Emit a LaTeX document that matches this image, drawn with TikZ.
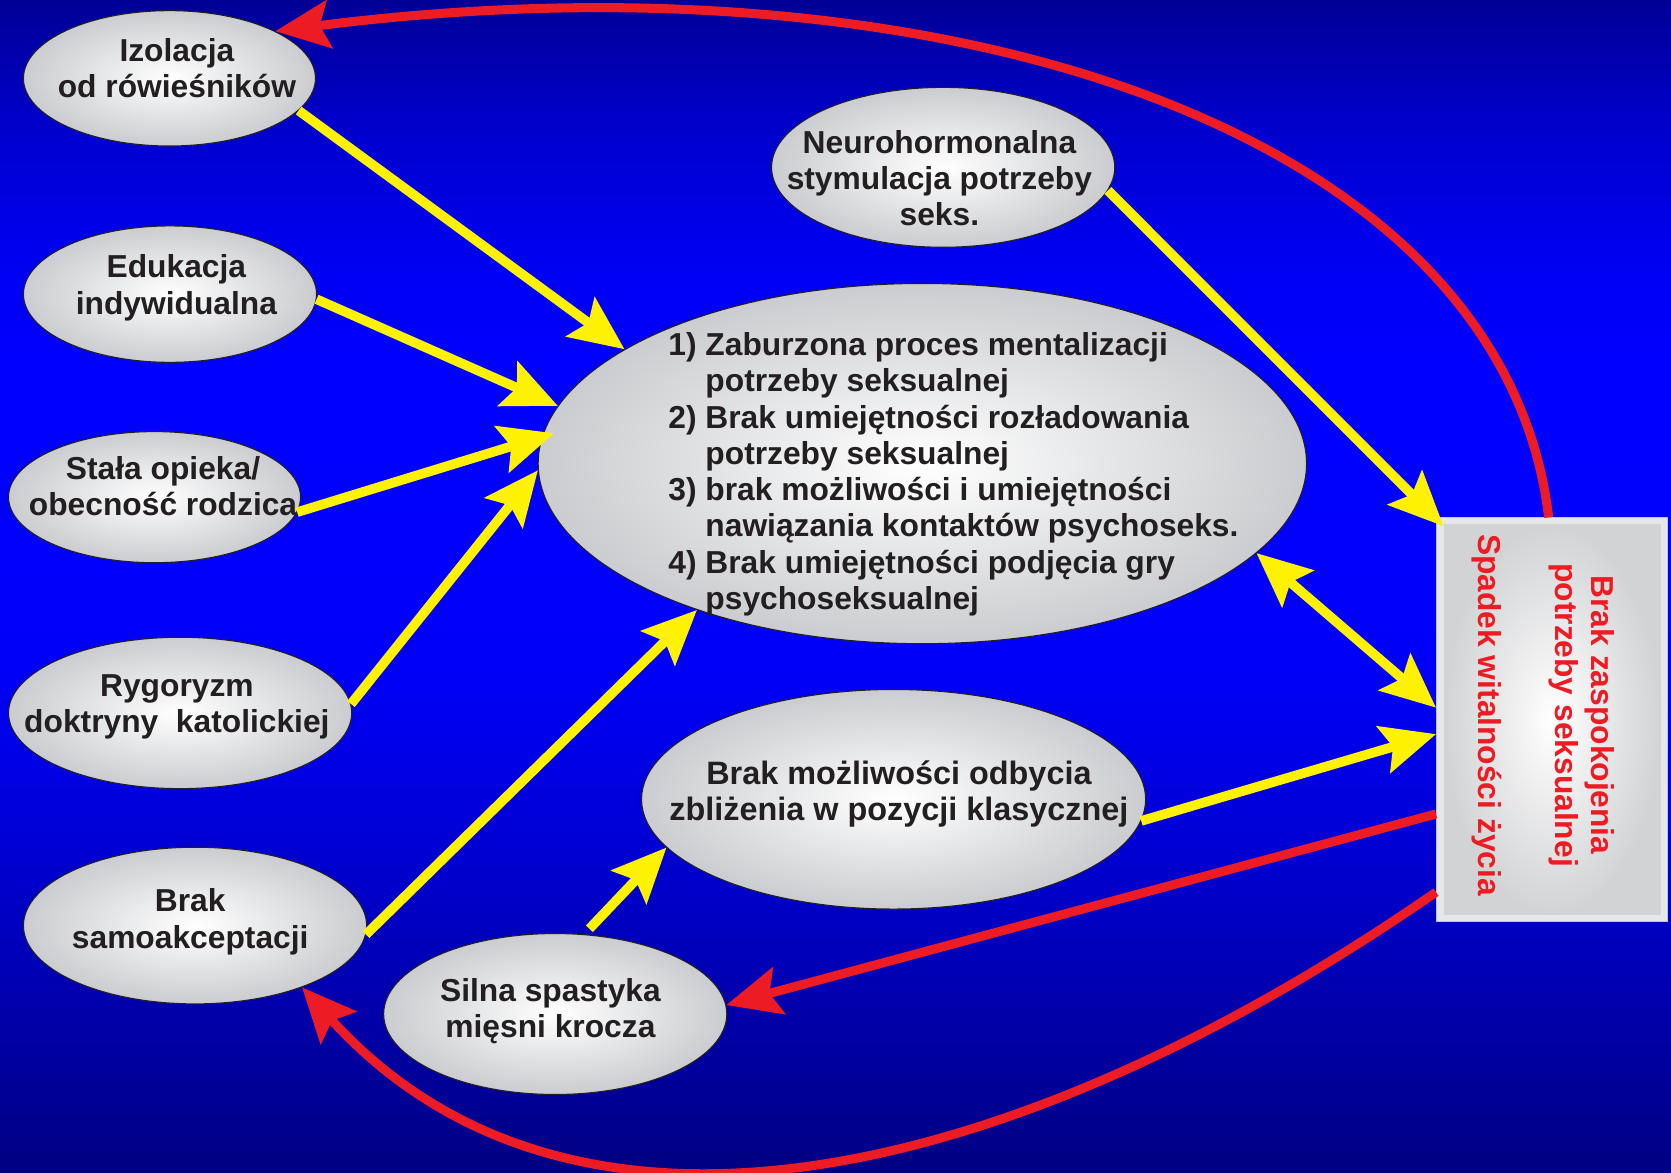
\documentclass[tikz,border=0pt]{standalone}
\usepackage{fontspec}
\setmainfont{Liberation Sans}
\usetikzlibrary{arrows.meta,shapes.geometric}

\definecolor{ink}{RGB}{35,31,32}
\definecolor{arrowyellow}{RGB}{255,242,0}
\definecolor{arrowred}{RGB}{237,28,36}
\definecolor{blobrim}{RGB}{202,204,207}
\definecolor{boxframe}{RGB}{230,231,233}
\definecolor{boxedge}{RGB}{190,192,230}
\definecolor{boxinner}{RGB}{210,211,213}
\definecolor{bgA}{RGB}{0,0,130}
\definecolor{bgB}{RGB}{0,0,170}
\definecolor{bgC}{RGB}{0,0,210}
\definecolor{bgD}{RGB}{0,0,250}
\definecolor{bgE}{RGB}{0,0,255}
\definecolor{bgF}{RGB}{0,0,245}
\definecolor{bgG}{RGB}{0,0,205}
\definecolor{bgH}{RGB}{0,0,150}

% slide background, dark at top and bottom, bright blue in the middle
\pgfdeclareverticalshading{slidebg}{100bp}{%
  color(0bp)=(bgA); color(25bp)=(bgA); color(31.82bp)=(bgB);
  color(38.64bp)=(bgC); color(46.82bp)=(bgD); color(59.09bp)=(bgE);
  color(63.18bp)=(bgF); color(69.55bp)=(bgG); color(75bp)=(bgH);
  color(100bp)=(bgH)}

\tikzset{
  blob/.style={ellipse, draw=ink, line width=1pt, inner sep=0pt,
    shading=radial, inner color=white, outer color=blobrim},
  lbl/.style={inner sep=0pt, align=center, text=ink,
    font=\fontsize{29.8}{34}\selectfont\bfseries},
  headtip/.tip={Stealth[length=51pt, width=45pt, inset=9pt]},
  yarrow/.style={draw=arrowyellow, line width=9pt, -headtip},
  rarrow/.style={draw=arrowred, line width=8.5pt, -headtip},
}

\begin{document}
\begin{tikzpicture}[x=1pt, y=-1pt]
\useasboundingbox (0,0) rectangle (1568,1100);
\shade[shading=slidebg] (0,0) rectangle (1568,1100);

% factor ellipses
\node[blob, minimum width=274pt, minimum height=127pt] (iso) at (159,73.5) {};
\node[blob, minimum width=275pt, minimum height=128pt] (edu) at (159.5,276) {};
\node[blob, minimum width=274pt, minimum height=123pt] (opi) at (145,466.5) {};
\node[blob, minimum width=322pt, minimum height=142pt] (ryg) at (169,669) {};
\node[blob, minimum width=322pt, minimum height=147pt] (sam) at (183,868.5) {};
\node[blob, minimum width=322pt, minimum height=151pt] (spa) at (521,951.5) {};
\node[blob, minimum width=473pt, minimum height=206pt] (zbl) at (838.5,750) {};
\node[blob, minimum width=322pt, minimum height=150pt] (neu) at (885,157) {};
\node[blob, minimum width=721pt, minimum height=338pt] (cen) at (865.5,435) {};

% outcome box
\node[draw=boxedge, line width=1pt, fill=boxframe, inner sep=0pt,
      minimum width=217pt, minimum height=379pt] (box) at (1456.5,675.5) {};
\node[inner sep=0pt, shading=radial, inner color=white, outer color=boxinner,
      minimum width=203pt, minimum height=366pt] (boxin) at (box.center) {};

% texts
\node[lbl] (iso-t) at (166,64) {Izolacja\\od rówieśników};
\node[lbl] (edu-t) at (165.5,270) {Edukacja\\indywidualna};
\node[lbl] (opi-t) at (153,456) {Stała opieka/\\obecność rodzica};
\node[lbl] (ryg-t) at (166,663) {Rygoryzm\\doktryny~ katolickiej};
\node[lbl] (sam-t) at (178.5,865) {Brak\\samoakceptacji};
\node[lbl] (spa-t) at (516.5,949) {Silna spastyka\\mięsni krocza};
\node[lbl, font=\fontsize{30.4}{34}\selectfont\bfseries] (zbl-t) at (843.5,745)
  {Brak możliwości odbycia\\zbliżenia w pozycji klasycznej};
\node[lbl] (neu-t) at (881.5,167) {Neurohormonalna\\stymulacja potrzeby\\seks.};
\node[lbl, anchor=west, align=left] (cen-t) at (627,446) {%
  \begin{tabular}{@{}l@{\ }l@{}}
  1) & Zaburzona proces mentalizacji\\
     & potrzeby seksualnej\\
  2) & Brak umiejętności rozładowania\\
     & potrzeby seksualnej\\
  3) & brak możliwości i umiejętności\\
     & nawiązania kontaktów psychoseks.\\
  4) & Brak umiejętności podjęcia gry\\
     & psychoseksualnej
  \end{tabular}};
\node[lbl, rotate=-90, text=arrowred] (box-t) at (1448,671)
  {Brak zaspokojenia\\potrzeby seksualnej\\[38pt]Spadek witalności życia};

% yellow influences
\draw[yarrow] (iso.-14) -- (cen.159.9);
\draw[yarrow] (edu.-2.4) -- (cen.171.2);
\draw[yarrow, shorten >=-12pt] (opi.-6.7) -- (cen.176.2);
\draw[yarrow] (ryg.3.2) -- (cen.181.6);
\draw[yarrow] (sam.-3.5) -- (cen.-147);
\draw[yarrow, shorten <=7pt] (spa.70.3) -- (zbl.192.6);
\draw[yarrow, shorten >=-10pt] (neu.-8.1) -- (box.120.6);
\draw[yarrow, headtip-headtip] (cen.-15.2) -- (box.174.3);
\draw[yarrow] (zbl.-5.5) -- (box.187.9);

% red feedback
\draw[rarrow] (box.91) .. controls (1410,120) and (880,-50) .. (iso.24);
\draw[rarrow] (box.219.2) -- (spa.3.3);
\draw[rarrow] (box.236.5) .. controls (961,1105) and (541,1211) .. (sam.-30.5);
\end{tikzpicture}
\end{document}
